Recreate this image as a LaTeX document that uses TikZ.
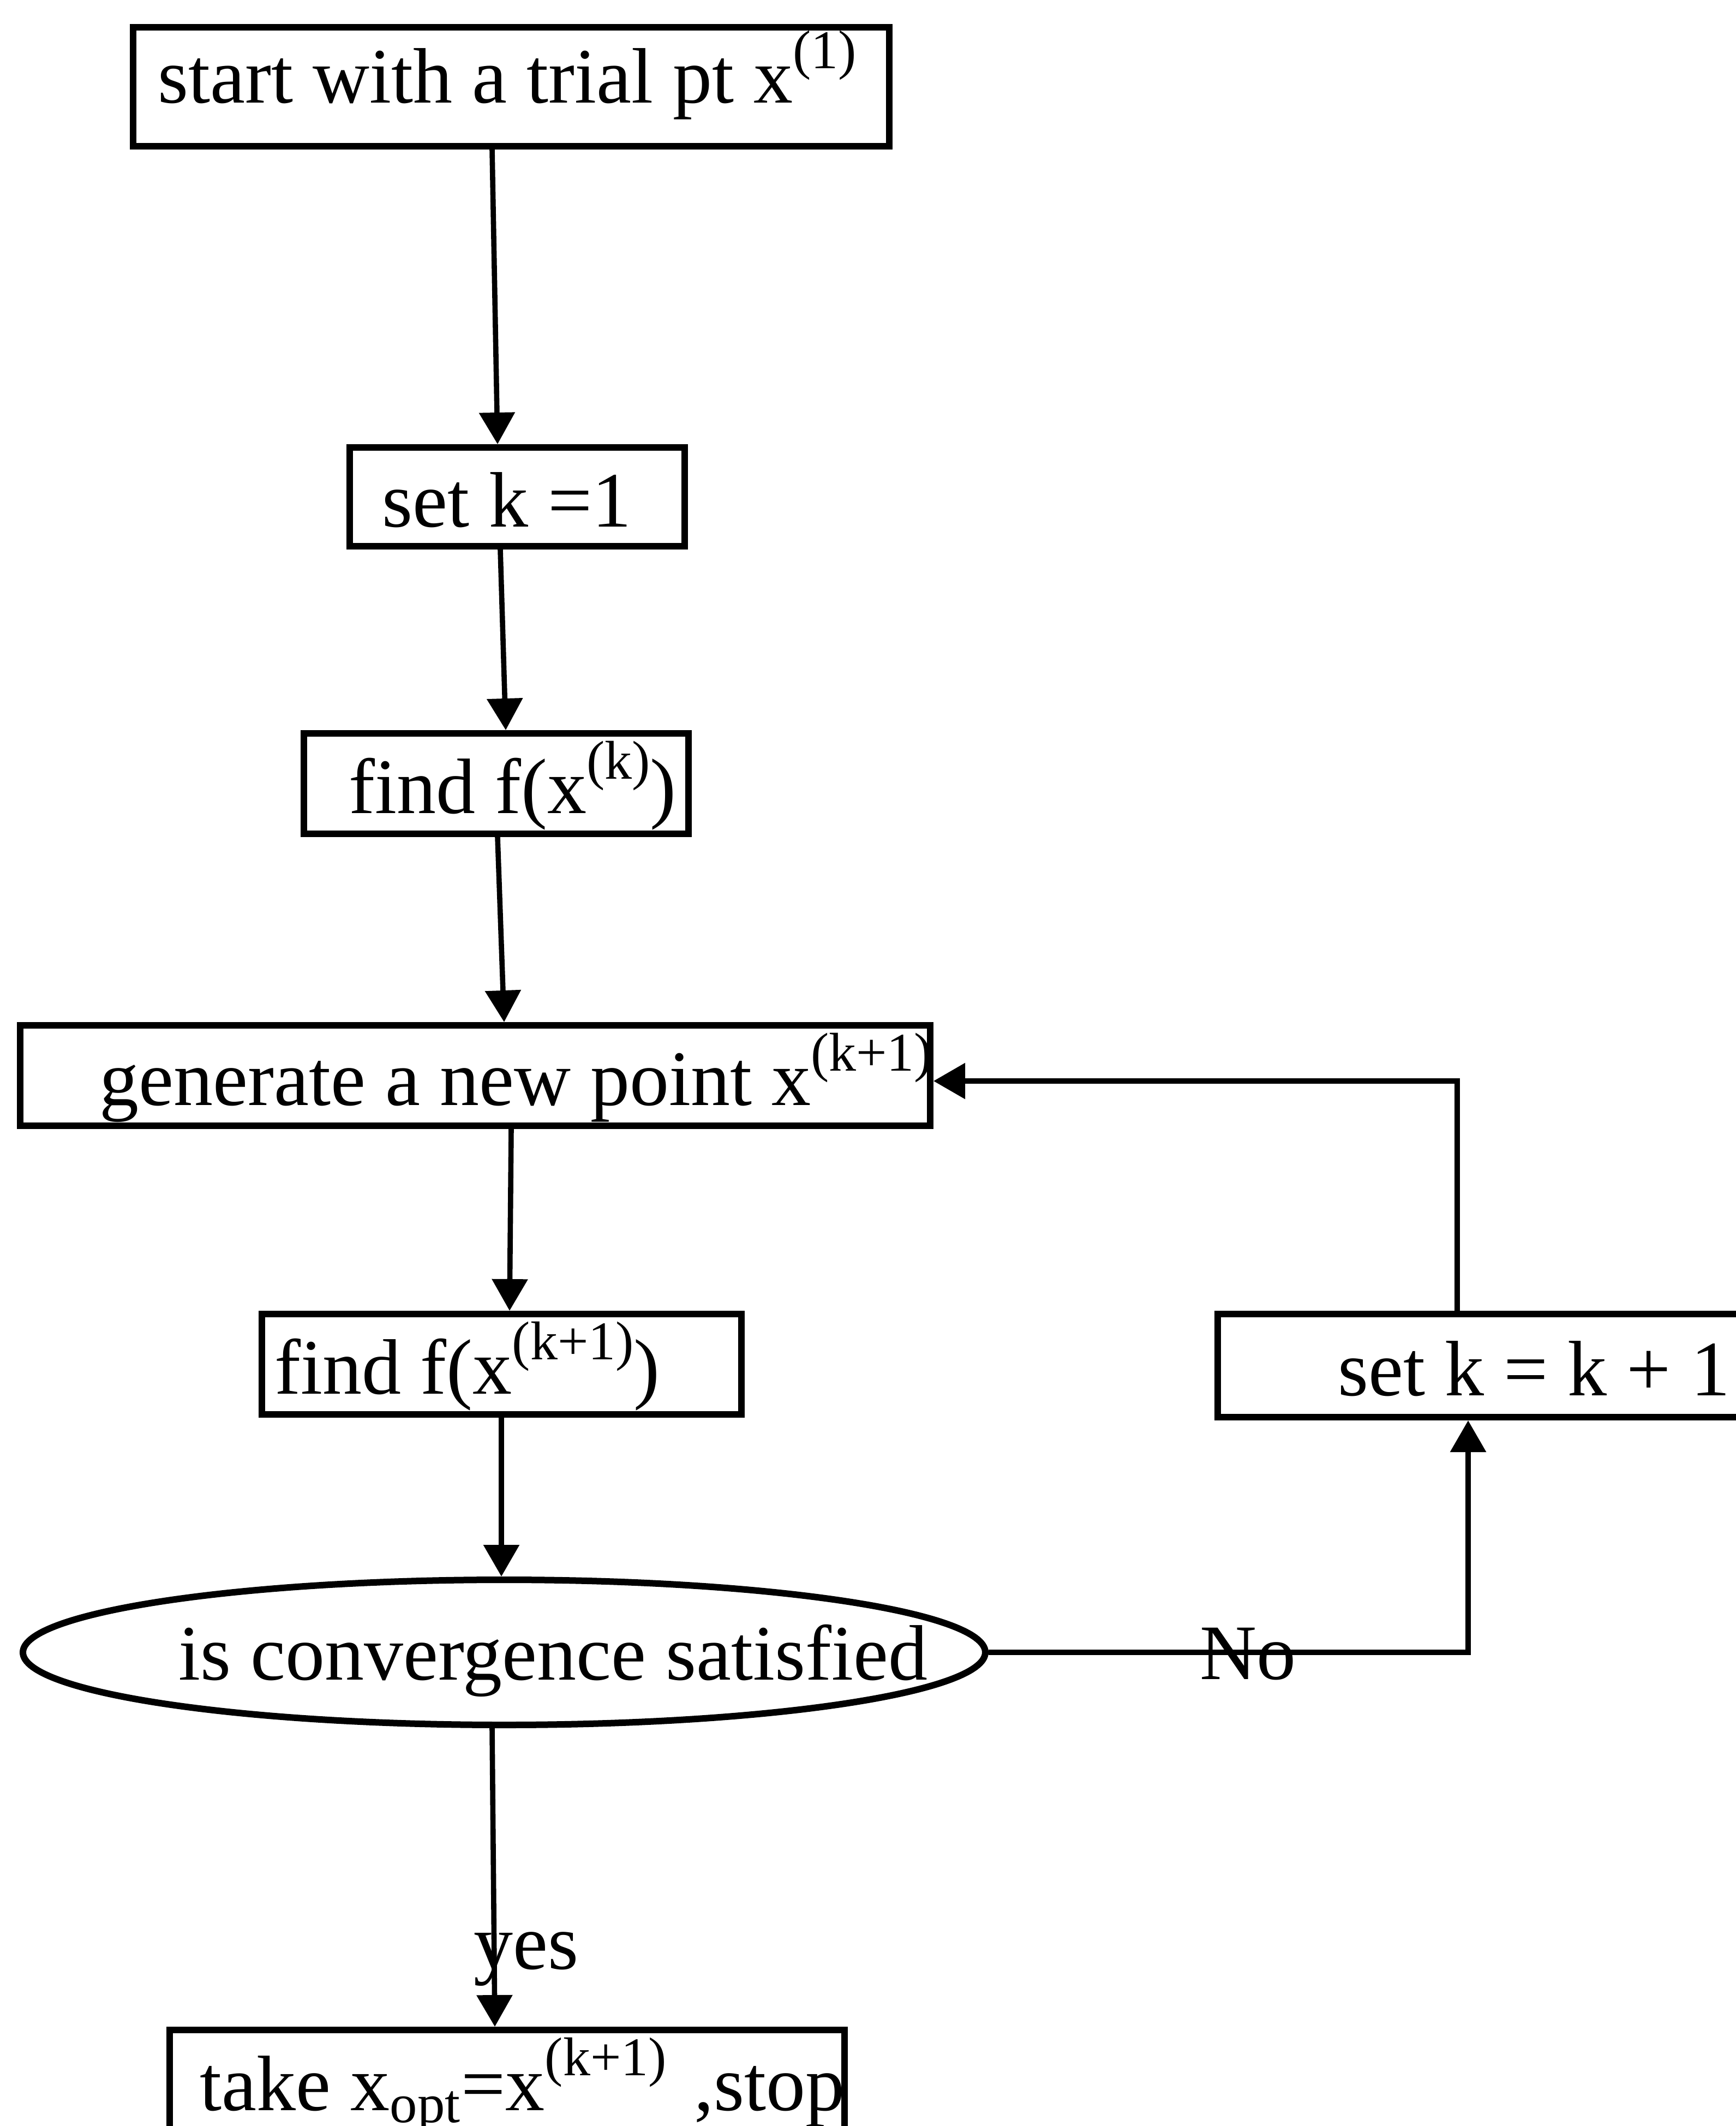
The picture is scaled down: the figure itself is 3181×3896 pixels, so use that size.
\documentclass[tikz,border=0pt]{standalone}
\usepackage{fontspec}
\setmainfont{Liberation Serif}
\usetikzlibrary{arrows.meta,shapes.geometric,calc}
\newcommand{\shifttext}[3]{\makebox[0pt]{\hspace*{#1}#3\hspace*{#2}}}
\newcommand{\sups}[1]{\raisebox{0.44em}{\fontsize{25}{30}\selectfont #1}}
\begin{document}
\begin{tikzpicture}[x=0.25pt,y=-0.25pt,
  box/.style={draw, rectangle, line width=3pt, inner sep=0pt,
    text height=34pt, text depth=6.6pt, font=\fontsize{36}{42}\selectfont},
  oval/.style={draw, ellipse, line width=3pt, inner sep=0pt,
    text height=31pt, text depth=6pt, font=\fontsize{36}{42}\selectfont},
  arr/.style={line width=2.4pt, -{Triangle[length=14.5pt,width=16pt]}},
  lbl/.style={inner sep=0pt, font=\fontsize{36}{42}\selectfont}]
\useasboundingbox (0,0) rectangle (3181,3896);

\node[box, minimum width=346.5pt, minimum height=54.5pt, text height=22pt, text depth=7pt] (b1) at (937,159)
  {\shifttext{0pt}{3.5pt}{start with a trial pt x\sups{(1)}}};
\node[box, minimum width=153.5pt, minimum height=45.25pt] (b2) at (948,910.5)
  {\shifttext{0pt}{9.5pt}{set k =1}};
\node[box, minimum width=176.25pt, minimum height=46pt] (b3) at (909.5,1436)
  {\shifttext{15pt}{0pt}{find f(x\sups{(k)})}};
\node[box, minimum width=417pt, minimum height=46pt] (b4) at (871,1971)
  {\shifttext{37.5pt}{0pt}{generate a new point x\sups{(k+1)}}};
\node[box, minimum width=219.75pt, minimum height=46pt] (b5) at (919.5,2500)
  {\shifttext{0pt}{31.5pt}{find f(x\sups{(k+1)})}};
\node[oval, minimum width=441pt, minimum height=66.5pt] (ell) at (924,3028)
  {\shifttext{45pt}{0pt}{is convergence satisfied}};
\node[box, minimum width=249.5pt, minimum height=47.25pt] (kb) at (2731,2502.5)
  {\shifttext{40.5pt}{0pt}{set k = k + 1}};
\node[box, minimum width=309.25pt, minimum height=46.25pt] (fin) at (929.5,3812.5)
  {\shifttext{14pt}{0pt}{take x\textsubscript{opt}=x\sups{(k+1)}\hspace{0.35em},stop}};

\node[lbl, anchor=base west] (no) at (2199,3077) {No};
\node[lbl, anchor=base west] (yes) at (868,3608) {yes};

\coordinate (a1s) at (902,0);  \coordinate (a1e) at (912,0);
\coordinate (a2s) at (917,0);  \coordinate (a2e) at (927,0);
\coordinate (a3s) at (912,0);  \coordinate (a3e) at (924,0);
\coordinate (a4s) at (937,0);  \coordinate (a4e) at (934,0);
\coordinate (a5s) at (919,0);  \coordinate (a5e) at (919,0);
\coordinate (a6s) at (902,0);  \coordinate (a6e) at (907,0);
\coordinate (r1) at (2671,1981);
\coordinate (r2) at (2691,3030);

\draw[arr] (b1.south -| a1s) -- (b2.north -| a1e);
\draw[arr] (b2.south -| a2s) -- (b3.north -| a2e);
\draw[arr] (b3.south -| a3s) -- (b4.north -| a3e);
\draw[arr] (b4.south -| a4s) -- (b5.north -| a4e);
\draw[arr] (b5.south -| a5s) -- (ell.north -| a5e);
\draw[arr] (ell.south -| a6s) -- (fin.north -| a6e);
\draw[arr] (kb.north -| r1) -- (r1) -- (r1 -| b4.east);
\draw[arr] (ell.east) -- (ell.east -| r2) -- (kb.south -| r2);
\end{tikzpicture}
\end{document}
